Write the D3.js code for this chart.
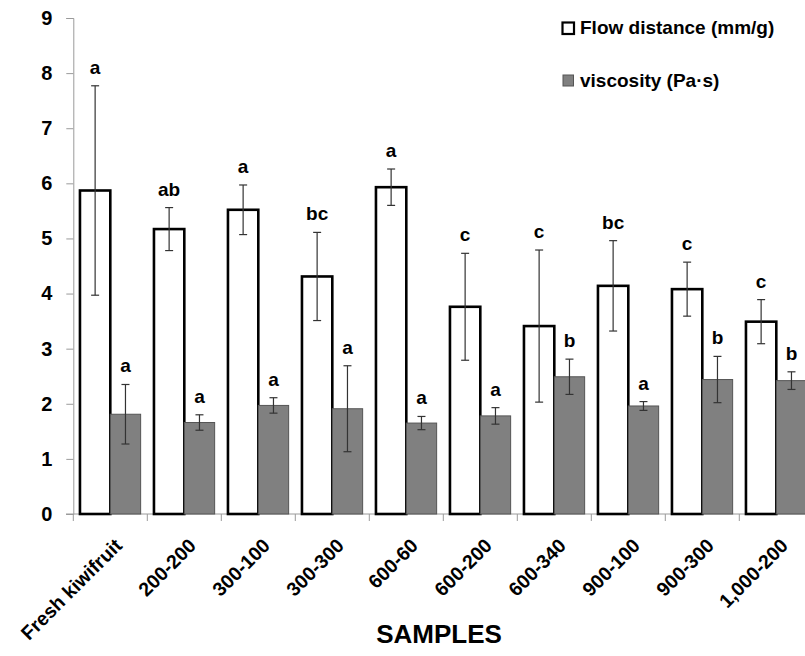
<!DOCTYPE html>
<html>
<head>
<meta charset="utf-8">
<script src="https://cdn.jsdelivr.net/npm/d3@7"></script>
<style>
  body { margin: 0; background: #fff; }
  text { font-family: "Liberation Sans", Arial, sans-serif; fill: #000; }
</style>
</head>
<body>
<div id="chart"></div>
<script>
// data
const samples = ["Fresh kiwifruit", "200-200", "300-100", "300-300", "600-60", "600-200", "600-340", "900-100", "900-300", "1,000-200"];
const flow = [5.87, 5.17, 5.52, 4.31, 5.93, 3.76, 3.41, 4.14, 4.08, 3.49];
const flowErr = [1.90, 0.39, 0.45, 0.80, 0.33, 0.97, 1.38, 0.82, 0.49, 0.40];
const visc = [1.81, 1.66, 1.97, 1.91, 1.65, 1.78, 2.49, 1.96, 2.44, 2.42];
const viscErr = [0.54, 0.14, 0.14, 0.78, 0.12, 0.15, 0.32, 0.08, 0.42, 0.16];
const flowLetters = ["a", "ab", "a", "bc", "a", "c", "c", "bc", "c", "c"];
const viscLetters = ["a", "a", "a", "a", "a", "a", "b", "a", "b", "b"];
const yTicks = [0, 1, 2, 3, 4, 5, 6, 7, 8, 9];
const seriesNames = ["Flow distance (mm/g)", "viscosity (Pa\u00b7s)"];

const width = 805, height = 656;
const svg = d3.select("#chart").append("svg")
    .attr("width", width)
    .attr("height", height);

const x0 = d3.scaleBand()
    .domain(samples)
    .range([73.3, 813.3])
    .paddingInner(0.18)
    .paddingOuter(0.09);
const x1 = d3.scaleBand()
    .domain(["flow", "visc"])
    .range([0, x0.bandwidth()]);
const y = d3.scaleLinear().domain([0, 9]).range([514, 18]);

// rows for drawing
const rows = samples.map((s, i) => ({
    sample: s,
    groups: [
        { key: "flow", v: flow[i], e: flowErr[i], lab: flowLetters[i] },
        { key: "visc", v: visc[i], e: viscErr[i], lab: viscLetters[i] }
    ]
}));

// y axis
const yAxis = svg.append("g")
    .attr("transform", "translate(73.3,0)")
    .call(d3.axisLeft(y).tickValues(yTicks).tickSize(7).tickPadding(14));
yAxis.select(".domain").attr("stroke", "#9a9a9a");
yAxis.selectAll(".tick line").attr("stroke", "#9a9a9a");
yAxis.selectAll(".tick text")
    .style("font-size", "20px")
    .style("font-weight", "bold")
    .attr("fill", "#000");

// x axis: ticks sit at the category boundaries
const step = x0.step();
const boundaries = d3.range(samples.length + 1).map(i => 73.3 + i * step);
const xAxis = svg.append("g");
xAxis.append("line")
    .attr("x1", 66).attr("x2", width)
    .attr("y1", y(0)).attr("y2", y(0))
    .attr("stroke", "#9a9a9a");
xAxis.selectAll("line.tk")
    .data(boundaries)
    .enter().append("line")
    .attr("class", "tk")
    .attr("x1", d => d).attr("x2", d => d)
    .attr("y1", y(0)).attr("y2", y(0) + 7)
    .attr("stroke", "#9a9a9a");

// category labels, rotated
xAxis.selectAll("text")
    .data(samples)
    .enter().append("text")
    .attr("transform", d => "translate(" + (x0(d) + x0.bandwidth() / 2 + 3) + "," + 537 + ") rotate(-45)")
    .attr("text-anchor", "end")
    .attr("dy", "0.72em")
    .style("font-size", "19.5px")
    .style("font-weight", "bold")
    .text(d => d);

// bars
const group = svg.selectAll("g.grp")
    .data(rows)
    .enter().append("g")
    .attr("class", "grp")
    .attr("transform", d => "translate(" + x0(d.sample) + ",0)");

const bar = group.selectAll("g.bar")
    .data(d => d.groups)
    .enter().append("g")
    .attr("class", "bar");

bar.append("rect")
    .attr("x", d => x1(d.key))
    .attr("y", d => y(d.v))
    .attr("width", x1.bandwidth())
    .attr("height", d => y(0) - y(d.v))
    .attr("fill", d => d.key == "flow" ? "#fff" : "#808080")
    .attr("stroke", d => d.key == "flow" ? "#000" : "#555")
    .attr("stroke-width", d => d.key == "flow" ? 2.6 : 1);

// error bars
const cx = d => x1(d.key) + x1.bandwidth() / 2;
bar.append("line")
    .attr("x1", cx).attr("x2", cx)
    .attr("y1", d => y(d.v + d.e)).attr("y2", d => y(d.v - d.e))
    .attr("stroke", "#333").attr("stroke-width", 1.2);
bar.append("line")
    .attr("x1", d => cx(d) - 4).attr("x2", d => cx(d) + 4)
    .attr("y1", d => y(d.v + d.e)).attr("y2", d => y(d.v + d.e))
    .attr("stroke", "#333").attr("stroke-width", 1.2);
bar.append("line")
    .attr("x1", d => cx(d) - 4).attr("x2", d => cx(d) + 4)
    .attr("y1", d => y(d.v - d.e)).attr("y2", d => y(d.v - d.e))
    .attr("stroke", "#333").attr("stroke-width", 1.2);

// significance letters
bar.append("text")
    .attr("x", cx)
    .attr("y", d => y(d.v + d.e) - 12)
    .attr("text-anchor", "middle")
    .style("font-size", "19px")
    .style("font-weight", "bold")
    .text(d => d.lab);

// legend
const legend = svg.append("g");
legend.append("rect")
    .attr("x", 562.5).attr("y", 22.5).attr("width", 11.5).attr("height", 11.5)
    .attr("fill", "#fff").attr("stroke", "#000").attr("stroke-width", 2.2);
legend.append("text")
    .attr("x", 580).attr("y", 34)
    .style("font-size", "19px").style("font-weight", "bold")
    .text(seriesNames[0]);
legend.append("rect")
    .attr("x", 563).attr("y", 75).attr("width", 10.5).attr("height", 11)
    .attr("fill", "#808080").attr("stroke", "#555").attr("stroke-width", 1);
legend.append("text")
    .attr("x", 580).attr("y", 87)
    .style("font-size", "19px").style("font-weight", "bold")
    .text(seriesNames[1]);

// axis title
svg.append("text")
    .attr("x", 439).attr("y", 643)
    .attr("text-anchor", "middle")
    .style("font-size", "26px")
    .style("font-weight", "bold")
    .text("SAMPLES");
</script>
</body>
</html>
